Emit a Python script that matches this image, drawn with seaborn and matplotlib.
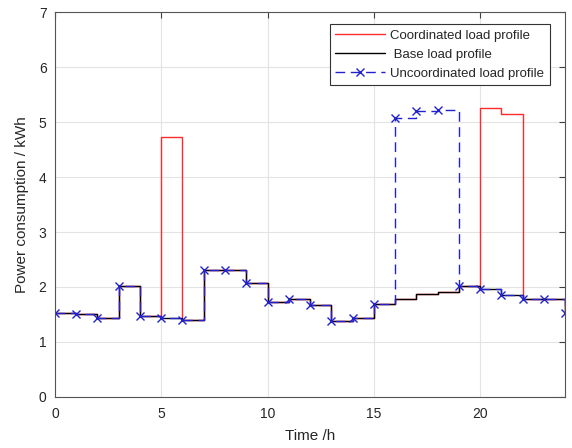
import numpy as np
import pandas as pd
import seaborn as sns
import matplotlib
matplotlib.use("Agg")
import matplotlib.pyplot as plt

# hourly values, stairs style (value at hour h holds until h+1)
hours = list(range(25))
base_load = [1.52, 1.50, 1.43, 2.02, 1.47, 1.44, 1.40, 2.31, 2.31, 2.07,
             1.73, 1.78, 1.67, 1.38, 1.44, 1.69, 1.79, 1.88, 1.91, 2.02,
             1.96, 1.85, 1.79, 1.79, 1.52]
coordinated = [1.52, 1.50, 1.43, 2.02, 1.47, 4.73, 1.40, 2.31, 2.31, 2.07,
               1.73, 1.78, 1.67, 1.38, 1.44, 1.69, 1.79, 1.88, 1.91, 2.02,
               5.25, 5.15, 1.79, 1.79, 1.52]
uncoordinated = [1.52, 1.50, 1.43, 2.02, 1.47, 1.44, 1.40, 2.31, 2.31, 2.07,
                 1.73, 1.78, 1.67, 1.38, 1.44, 1.69, 5.07, 5.20, 5.22, 2.02,
                 1.96, 1.85, 1.79, 1.79, 1.52]

df = pd.DataFrame({"hour": hours, "base": base_load,
                   "coord": coordinated, "uncoord": uncoordinated})

sns.set_style("white")
plt.rcParams["font.family"] = ["Liberation Sans", "DejaVu Sans"]
plt.rcParams["font.size"] = 10

fig = plt.figure(figsize=(5.72, 4.48), dpi=100)
ax = fig.add_axes([0.096, 0.114, 0.892, 0.859])

blue = "#2222cc"
sns.lineplot(data=df, x="hour", y="coord", ax=ax, color="#ff2a2a",
             linewidth=1, drawstyle="steps-post", label="Coordinated load profile")
sns.lineplot(data=df, x="hour", y="base", ax=ax, color="black",
             linewidth=1, drawstyle="steps-post", label=" Base load profile")
# seaborn gives markers a white edge by default -> 'x' would vanish, so set mec
sns.lineplot(data=df, x="hour", y="uncoord", ax=ax, color=blue,
             linewidth=1, linestyle=(0, (7, 4)), drawstyle="steps-post",
             marker="x", markersize=6, markeredgewidth=1, markeredgecolor=blue,
             label="Uncoordinated load profile")

ax.set_xlim(0, 24)
ax.set_ylim(0, 7)
ax.set_xticks([0, 5, 10, 15, 20])
ax.set_yticks(range(8))
ax.grid(True, color="#e3e3e3", linewidth=0.8)
ax.set_axisbelow(True)
ax.tick_params(direction="in", top=True, right=True, length=4,
               color="#404040", labelcolor="#262626", labelsize=10)
ax.tick_params(axis="x", pad=7)
ax.tick_params(axis="y", pad=6)
for s in ax.spines.values():
    s.set_color("#555555")
    s.set_linewidth(0.8)

ax.set_xlabel("Time /h", color="#262626", fontsize=11, labelpad=6)
ax.set_ylabel("Power consumption / kWh", color="#262626", fontsize=11, labelpad=7)

leg = ax.legend(loc="upper right", bbox_to_anchor=(0.975, 0.975),
                handlelength=3.8, fontsize=9.5, fancybox=False, framealpha=1,
                edgecolor="#333333", borderpad=0.4, labelspacing=0.5,
                handletextpad=0.4, borderaxespad=0.2)
leg.get_frame().set_linewidth(0.8)

fig.savefig("out.png", dpi=100)
